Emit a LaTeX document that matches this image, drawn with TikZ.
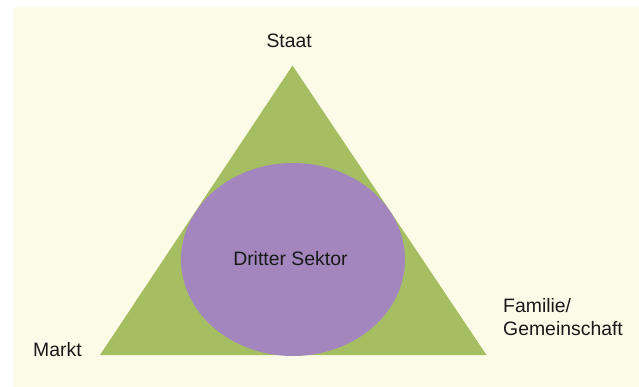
\documentclass[tikz,border=0pt]{standalone}
\usepackage{fontspec}
\setmainfont{Liberation Sans}
\definecolor{cream}{HTML}{FCFBE8}
\definecolor{leaf}{HTML}{A6BE62}
\definecolor{lilac}{HTML}{A386BE}
\begin{document}
\begin{tikzpicture}[x=1pt,y=-1pt,
  lbl/.style={inner sep=0pt,font=\fontsize{19.4}{22.6}\selectfont,text=black!90}]
\useasboundingbox (0,0) rectangle (639,387);
\fill[cream] (14,7) rectangle (639,387);
\coordinate (top) at (292.5,65.5);
\coordinate (bl) at (100,355);
\coordinate (br) at (486.5,355);
\fill[leaf] (top) -- (br) -- (bl) -- cycle;
\fill[lilac] (293,259.5) ellipse [x radius=112, y radius=96.5];
\node[lbl,anchor=base] (sektor) at (290.4,265) {Dritter Sektor};
\node[lbl,anchor=base] (staat) at (289.2,47.7) {Staat};
\node[lbl,anchor=base west] (markt) at (33,356) {Markt};
\node[lbl,anchor=base west,align=left] (familie) at (503,335) {Familie/\\Gemeinschaft};
\end{tikzpicture}
\end{document}
